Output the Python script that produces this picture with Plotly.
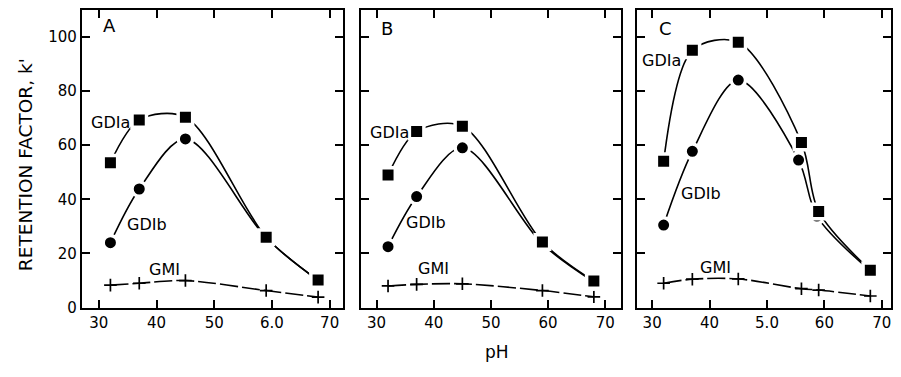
import plotly.graph_objects as go

# ---- data ----
panels = ["A", "B", "C"]

a_ph_gd1a = [3.2, 3.7, 4.5, 5.9, 6.8]
a_gd1a = [53.5, 69.3, 70.3, 26.0, 10.2]
a_ph_gd1b = [3.2, 3.7, 4.5, 5.9, 6.8]
a_gd1b = [24.0, 43.8, 62.3, 25.8, 10.0]
a_ph_gm1 = [3.2, 3.7, 4.5, 5.9, 6.8]
a_gm1 = [8.3, 9.0, 10.0, 6.3, 3.9]

b_ph_gd1a = [3.2, 3.7, 4.5, 5.9, 6.8]
b_gd1a = [49.0, 65.0, 67.0, 24.2, 9.8]
b_ph_gd1b = [3.2, 3.7, 4.5, 5.9, 6.8]
b_gd1b = [22.5, 41.0, 59.0, 23.5, 9.5]
b_ph_gm1 = [3.2, 3.7, 4.5, 5.9, 6.8]
b_gm1 = [8.0, 8.6, 8.8, 6.3, 4.0]

c_ph_gd1a = [3.2, 3.7, 4.5, 5.6, 5.9, 6.8]
c_gd1a = [54.0, 95.0, 98.0, 61.0, 35.5, 13.8]
c_ph_gd1b = [3.2, 3.7, 4.5, 5.55, 5.87, 6.8]
c_gd1b = [30.5, 57.7, 84.0, 54.5, 33.8, 13.6]
c_ph_gm1 = [3.2, 3.7, 4.5, 5.6, 5.9, 6.8]
c_gm1 = [9.0, 10.5, 10.6, 7.0, 6.5, 4.3]

x_tickvals = [3, 4, 5, 6, 7]
x_ticktext = [
    ["30", "40", "50", "6.0", "70"],
    ["30", "40", "50", "60", "70"],
    ["30", "40", "5.0", "60", "70"],
]
y_tickvals = [0, 20, 40, 60, 80, 100]
y_ticktext = ["0", "20", "40", "60", "80", "100"]

curve_labels = ["GDIa", "GDIb", "GMI"]
# label anchor positions (pH, k') per panel
label_pos = [
    [(3.2, 68.5), (3.83, 30.8), (4.13, 14.0)],
    [(3.23, 64.5), (3.87, 31.5), (4.0, 14.3)],
    [(3.17, 91.4), (3.85, 42.0), (4.11, 14.7)],
]
panel_label_pos = [(3.19, 104), (3.19, 103), (3.24, 103)]

data = [
    (a_ph_gd1a, a_gd1a, a_ph_gd1b, a_gd1b, a_ph_gm1, a_gm1),
    (b_ph_gd1a, b_gd1a, b_ph_gd1b, b_gd1b, b_ph_gm1, b_gm1),
    (c_ph_gd1a, c_gd1a, c_ph_gd1b, c_gd1b, c_ph_gm1, c_gm1),
]

# page body has an 8px margin; size the figure so the page fits the window exactly
OFF = 8
W, H = 901 - 2 * OFF, 377 - 2 * OFF
xdoms = [((82 - OFF) / W, (343 - OFF) / W),
         ((361 - OFF) / W, (622 - OFF) / W),
         ((638 - OFF) / W, (W - 1) / W)]
xranges = [[2.706, 7.225], [2.72, 7.28], [2.741, 7.16]]
ydom = (1 - (315 - OFF) / H, 1 - 0.5 / H)
FONT = "DejaVu Sans"

fig = go.Figure()
annotations = []
for i, (xa1, ya1, xb1, yb1, xg, yg) in enumerate(data):
    xref = "x" if i == 0 else f"x{i+1}"
    yref = "y" if i == 0 else f"y{i+1}"
    # GM1 dashed
    fig.add_trace(go.Scatter(
        x=xg, y=yg, mode="lines+markers", xaxis=xref, yaxis=yref,
        line=dict(color="black", width=1.6, shape="spline", smoothing=0.9, dash="18px,4px"),
        marker=dict(symbol="cross-thin", size=9, line=dict(color="black", width=1.7)),
        showlegend=False, hoverinfo="skip"))
    # GD1b circles
    fig.add_trace(go.Scatter(
        x=xb1, y=yb1, mode="lines+markers", xaxis=xref, yaxis=yref,
        line=dict(color="black", width=1.6, shape="spline", smoothing=0.9),
        marker=dict(symbol="circle", size=14.5, color="black", line=dict(color="white", width=3.5)),
        showlegend=False, hoverinfo="skip"))
    # GD1a squares
    fig.add_trace(go.Scatter(
        x=xa1, y=ya1, mode="lines+markers", xaxis=xref, yaxis=yref,
        line=dict(color="black", width=1.6, shape="spline", smoothing=0.9),
        marker=dict(symbol="square", size=14.5, color="black", line=dict(color="white", width=3.5)),
        showlegend=False, hoverinfo="skip"))

    for lbl, (lx, ly) in zip(curve_labels, label_pos[i]):
        annotations.append(dict(x=lx, y=ly, xref=xref, yref=yref, text=lbl, showarrow=False,
                                font=dict(family=FONT, size=16, color="black")))
    px, py = panel_label_pos[i]
    annotations.append(dict(x=px, y=py, xref=xref, yref=yref, text=panels[i], showarrow=False,
                            font=dict(family=FONT, size=18, color="black")))

    axx = dict(domain=list(xdoms[i]), range=xranges[i], tickmode="array",
               tickvals=x_tickvals, ticktext=x_ticktext[i], ticks="inside", ticklen=8,
               tickwidth=1.8, tickcolor="black", showline=True, linecolor="black",
               linewidth=2, mirror="ticks", showgrid=False, zeroline=False,
               ticklabeloverflow="allow",
               tickfont=dict(family=FONT, size=15, color="black"), anchor=yref)
    axy = dict(domain=list(ydom), range=[0, 109.7], tickmode="array",
               tickvals=y_tickvals, ticktext=y_ticktext, ticks="inside", ticklen=8,
               tickwidth=1.8, tickcolor="black", showline=True, linecolor="black",
               linewidth=2, mirror="ticks", showgrid=False, zeroline=False,
               showticklabels=(i == 0),
               tickfont=dict(family=FONT, size=15, color="black"), anchor=xref)
    kx = "xaxis" if i == 0 else f"xaxis{i+1}"
    ky = "yaxis" if i == 0 else f"yaxis{i+1}"
    fig.update_layout({kx: axx, ky: axy})

annotations.append(dict(x=(25 - OFF) / W, y=1 - (167 - OFF) / H, xref="paper", yref="paper",
                        xanchor="center", yanchor="middle",
                        text="RETENTION FACTOR, k'", textangle=-90, showarrow=False,
                        font=dict(family=FONT, size=18.5, color="black")))
annotations.append(dict(x=(498 - OFF) / W, y=1 - (361 - OFF) / H, xref="paper", yref="paper",
                        xanchor="center", yanchor="middle",
                        text="pH", showarrow=False,
                        font=dict(family=FONT, size=17, color="black")))

fig.update_layout(width=W, height=H, margin=dict(l=0, r=0, t=0, b=0),
                  paper_bgcolor="white", plot_bgcolor="white",
                  annotations=annotations, showlegend=False)

fig.write_html("out.html")
